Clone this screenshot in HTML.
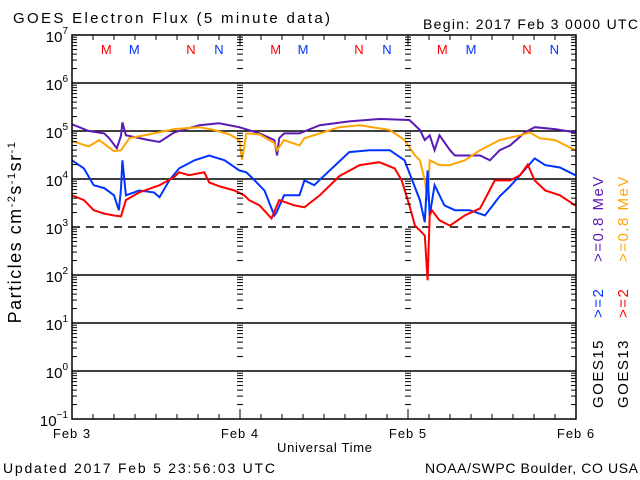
<!DOCTYPE html>
<html><head><meta charset="utf-8"><style>
body{margin:0;background:#fff;}
svg{display:block;font-family:"Liberation Sans",sans-serif;}
</style></head><body>
<svg id="chart" width="640" height="480" viewBox="0 0 640 480">
<rect width="640" height="480" fill="#fff"/>
<text x="13" y="23" font-size="15" textLength="317" lengthAdjust="spacing">GOES Electron Flux (5 minute data)</text>
<text x="423" y="29" font-size="14" textLength="215" lengthAdjust="spacing">Begin: 2017 Feb 3 0000 UTC</text>
<text x="3" y="473" font-size="14" textLength="272" lengthAdjust="spacing">Updated 2017 Feb  5 23:56:03 UTC</text>
<text x="425" y="473" font-size="14" textLength="213" lengthAdjust="spacing">NOAA/SWPC Boulder, CO USA</text>
<text x="277" y="452" font-size="13" textLength="95" lengthAdjust="spacing">Universal Time</text>
<text transform="translate(21,232) rotate(-90)" font-size="18" letter-spacing="1.5" text-anchor="middle">Particles cm<tspan dy="-6" font-size="11">-2</tspan><tspan dy="6">s</tspan><tspan dy="-6" font-size="11">-1</tspan><tspan dy="6">sr</tspan><tspan dy="-6" font-size="11">-1</tspan></text>
<g id="grid"></g>
<g id="series"></g>
<g id="axes"></g>
<g font-size="15" letter-spacing="1.5">
<text transform="translate(603,262) rotate(-90)" fill="#5a1ab4">&gt;=0.8  MeV</text>
<text transform="translate(628,262) rotate(-90)" fill="#ffa500">&gt;=0.8  MeV</text>
<text transform="translate(603,318) rotate(-90)" fill="#0033ff">&gt;=2</text>
<text transform="translate(628,318) rotate(-90)" fill="#ff0000">&gt;=2</text>
<text transform="translate(603,408) rotate(-90)" fill="#000">GOES15</text>
<text transform="translate(628,408) rotate(-90)" fill="#000">GOES13</text>
</g>
</svg>
<script>
const dayLabels=["Feb 3","Feb 4","Feb 5","Feb 6"];
const decadeExps=[7,6,5,4,3,2,1,0,-1];
const markerLetters=["M","M","N","N","M","M","N","N","M","M","N","N"];
const markerHours=[4.9,8.9,17.0,21.0,29.1,33.0,41.0,45.0,52.9,57.0,65.0,68.9];
const markerColors=["#ff0000","#0033ff","#ff0000","#0033ff","#ff0000","#0033ff","#ff0000","#0033ff","#ff0000","#0033ff","#ff0000","#0033ff"];

const purpleT=[0,2.4,4.6,5.3,6.4,7.0,7.2,7.7,11.0,12.5,14.6,18.2,21.0,23.9,26.8,28.9,29.3,29.6,30.3,32.5,35.4,39.6,43.9,48.2,49.7,50.4,51.1,51.8,52.5,54.0,54.7,56.1,58.3,59.7,61.1,62.6,64.7,66.1,69.0,71.9];
const purpleV=[5.14,5.0,4.95,4.85,4.64,4.9,5.18,4.91,4.81,4.77,4.97,5.12,5.16,5.08,4.95,4.81,4.49,4.85,4.95,4.95,5.12,5.20,5.25,5.23,5.02,4.81,4.91,4.6,4.91,4.6,4.49,4.49,4.49,4.39,4.6,4.7,4.97,5.08,5.04,4.97];
const orangeT=[0,2.4,3.9,6.0,7.0,8.2,11.0,14.6,18.2,20.3,22.5,23.9,24.3,24.9,26.8,28.9,29.3,30.3,32.5,33.2,35.4,38.2,41.1,45.4,47.5,49.0,49.7,50.4,50.8,51.1,52.5,54.0,56.1,58.3,61.1,64.0,65.4,66.8,69.0,71.9];
const orangeV=[4.79,4.68,4.81,4.58,4.6,4.85,4.93,5.04,5.08,5.02,4.93,4.81,4.4,4.95,4.93,4.75,4.6,4.81,4.7,4.85,4.95,5.08,5.12,5.02,4.81,4.49,4.39,3.97,3.55,4.39,4.29,4.29,4.39,4.6,4.81,4.91,4.97,4.85,4.81,4.6];
const blueT=[0,1.7,3.1,4.6,6.0,6.7,7.0,7.2,7.7,9.6,11.7,12.5,13.9,15.3,17.5,19.6,21.8,23.9,24.9,26.1,27.5,28.9,29.2,30.3,32.5,33.2,34.6,36.1,39.6,42.5,45.4,47.5,49.7,50.4,50.8,51.1,51.8,53.2,54.7,56.8,59.0,61.1,62.6,64.0,66.1,67.6,69.7,71.9];
const blueV=[4.39,4.22,3.87,3.81,3.66,3.35,3.8,4.39,3.66,3.76,3.72,3.62,3.97,4.22,4.39,4.49,4.39,4.18,4.14,3.97,3.76,3.24,3.30,3.66,3.66,3.97,3.87,4.08,4.56,4.6,4.6,4.39,3.56,3.1,4.18,3.24,3.87,3.45,3.35,3.35,3.24,3.64,3.85,4.08,4.43,4.29,4.24,4.08];
const redT=[0,1.7,3.1,4.6,6.0,7.0,7.7,9.6,12.5,14.6,15.3,16.7,18.9,19.6,21.0,23.2,24.6,25.3,26.8,28.5,29.6,31.8,33.2,35.4,38.2,41.1,43.9,46.1,47.1,48.2,49.0,49.7,50.4,50.8,51.1,51.4,52.5,54.0,56.1,58.3,60.4,62.6,64.0,65.1,66.1,67.6,69.7,71.9];
const redV=[3.66,3.56,3.35,3.28,3.24,3.22,3.56,3.72,3.87,4.04,4.14,4.08,4.14,3.93,3.85,3.76,3.66,3.56,3.45,3.18,3.56,3.45,3.41,3.66,4.06,4.29,4.35,4.22,3.97,3.45,3.03,2.93,2.82,1.89,3.24,3.35,3.14,3.03,3.24,3.39,3.97,3.97,4.08,4.30,3.97,3.76,3.66,3.45];

const NS="http://www.w3.org/2000/svg";
const L=72,R=576,T=35,B=419;
const xs=h=>L+h/72*(R-L);
const ys=v=>T+(7-v)/8*(B-T);
function mk(tag,attrs,parent){const e=document.createElementNS(NS,tag);for(const k in attrs)e.setAttribute(k,attrs[k]);parent.appendChild(e);return e;}
const grid=document.getElementById('grid'),axes=document.getElementById('axes'),ser=document.getElementById('series');

decadeExps.forEach((e,i)=>{
  const y=ys(e);
  if(e<7&&e>-1){
    const ln=mk('line',{x1:L,x2:R,y1:y,y2:y,stroke:'#000','stroke-width':1.5},grid);
    if(e===3)ln.setAttribute('stroke-dasharray','8,6');
    
    
  }
  const t=mk('text',{x:L-4,y:y+7,'font-size':15,'text-anchor':'end'},axes);
  
  
  t.textContent='10';
  const s=mk('tspan',{dy:-8,'font-size':10},t);s.textContent=String(e).replace('-','−');
  if(e>-1){for(let m=2;m<=9;m++){const yy=y+Math.log10(m)*(-(B-T)/8)+(B-T)/8;
    [[L,L+5],[R-5,R]].forEach(([a,b])=>{const k=mk('line',{x1:a,x2:b,y1:yy,y2:yy,stroke:'#000'},axes);
      });
    [1,2].forEach(d=>{const xx=xs(24*d);const k=mk('line',{x1:xx-3,x2:xx+3,y1:yy,y2:yy,stroke:'#000'},axes);
      });
  }}
});
const frame=mk('rect',{x:L,y:T,width:R-L,height:B-T,fill:'none',stroke:'#000','stroke-width':1.5},axes);


for(let h=3;h<72;h+=3){const xx=xs(h);const len=h%24===0?10:5;
  [[B-len,B],[T,T+len]].forEach(([a,b])=>{const k=mk('line',{x1:xx,x2:xx,y1:a,y2:b,stroke:'#000'},axes);
  });}
dayLabels.forEach((d,i)=>{const t=mk('text',{x:xs(24*i),y:438,'font-size':13,'text-anchor':'middle','letter-spacing':1},axes);
  t.textContent=d;});
markerLetters.forEach((m,i)=>{const t=mk('text',{x:xs(markerHours[i]),y:54,'font-size':13,'text-anchor':'middle',fill:markerColors[i]},axes);
  t.textContent=m;});

[[purpleT,purpleV,'#5a1ab4','goes15-08mev-line'],[orangeT,orangeV,'#ffa500','goes13-08mev-line'],[blueT,blueV,'#0033ff','goes15-2mev-line'],[redT,redV,'#ff0000','goes13-2mev-line']].forEach(([tt,vv,c,n])=>{
  const p=mk('polyline',{points:tt.map((t,i)=>xs(t).toFixed(1)+','+ys(vv[i]).toFixed(1)).join(' '),fill:'none',stroke:c,'stroke-width':2,'stroke-linejoin':'miter'},ser);
  
  
});
</script>
</body></html>
